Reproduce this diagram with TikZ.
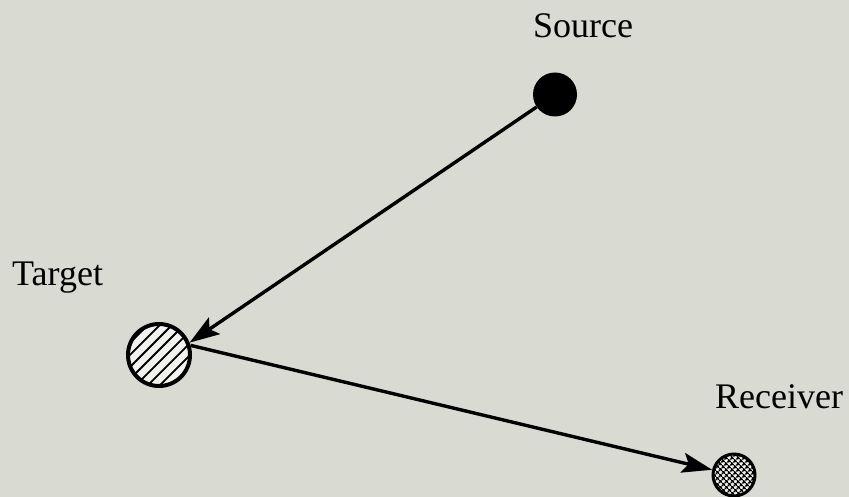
\documentclass[tikz,border=0pt]{standalone}
\usepackage{fontspec}
\setmainfont{Liberation Serif}
\usetikzlibrary{arrows.meta, positioning, patterns.meta}
\definecolor{paper}{HTML}{D9DBD3}
\definecolor{disc}{HTML}{F2F2EE}

\begin{document}
\begin{tikzpicture}[x=1pt, y=-1pt, font=\fontsize{36}{40}\selectfont,
  lbl/.style={inner sep=0pt, anchor=base west},
  dot/.style={circle, inner sep=0pt},
  a/.style={-{Stealth[length=30pt, width=20pt, inset=6pt]}, line width=3.4pt, black}]
\useasboundingbox[fill=paper] (0,0) rectangle (849,497);
% the three stations
\node[dot, fill=black, minimum size=44pt] (src) at (555,94.5) {};
\node[dot, draw, line width=4pt, minimum size=62pt, fill=disc,
      postaction={pattern={Lines[angle=45, distance=8.5pt, line width=1.8pt]}}] (tgt) at (159,355) {};
\node[dot, draw, line width=3pt, minimum size=42pt, fill=disc,
      postaction={pattern={Hatch[angle=45, distance=4pt, line width=1.5pt]}}] (rcv) at (734,475) {};
% labels
\node[lbl] (srclbl) at (533,38) {Source};
\node[lbl] (tgtlbl) at (12,285) {Target};
\node[lbl] (rcvlbl) at (715,408) {Receiver};
% paths
\draw[a] (src) -- (tgt.22);
\draw[a] (tgt.17) -- (rcv);
\end{tikzpicture}
\end{document}
